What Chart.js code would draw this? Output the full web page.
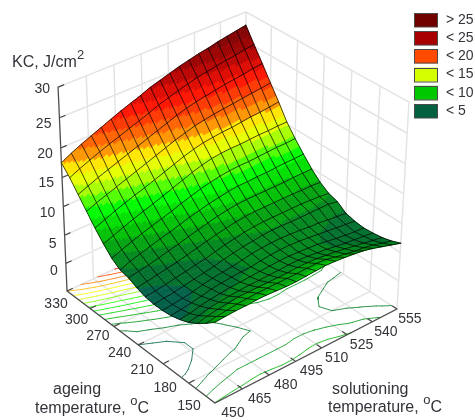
<!DOCTYPE html>
<html><head><meta charset="utf-8">
<style>html,body{margin:0;padding:0;background:#fff}canvas{display:block}</style>
<script src="https://cdn.jsdelivr.net/npm/chart.js@4"></script>
</head><body><canvas id="c" width="475" height="420"></canvas>
<script>
// ---- axes
const solGrid=[450,455.5,461.1,466.6,472.1,477.6,483.2,488.7,494.2,499.7,505.3,510.8,516.3,521.8,527.4,532.9,538.4,543.9,549.5,555];
const ageGrid=[150,160,170,180,190,200,210,220,230,240,250,260,270,280,290,300,310,320,330];
const solTicks=[450,465,480,495,510,525,540,555];
const ageTicks=[150,180,210,240,270,300,330];
const kcTicks=[0,5,10,15,20,25,30];
const kcFloor=-5;
// ---- KC values, one list per ageing temperature
const kc150=[8.8,8.9,9.0,9.0,9.1,9.1,9.0,8.9,8.9,9.0,9.1,9.2,9.1,8.95,8.75,8.5,8.1,7.6,7.1,6.6];
const kc160=[7.5,7.8,8.0,8.2,8.3,8.4,8.4,8.4,8.4,8.4,8.5,8.5,8.4,8.0,7.7,7.4,7.2,6.9,6.4,6.0];
const kc170=[6.4,6.8,7.1,7.3,7.5,7.5,7.5,7.5,7.5,7.5,7.6,7.6,7.5,7.3,7.1,6.8,6.5,6.2,5.9,5.6];
const kc180=[5.5,5.8,6.2,6.4,6.6,6.7,6.8,6.8,6.9,6.9,7.0,7.0,6.9,6.7,6.5,6.2,6.0,5.8,5.6,5.4];
const kc190=[4.9,5.1,5.5,5.8,6.0,6.2,6.3,6.4,6.5,6.6,6.7,6.7,6.6,6.5,6.35,6.1,5.8,5.6,5.4,5.3];
const kc200=[4.5,4.7,5.0,5.3,5.7,5.9,6.1,6.2,6.25,6.5,6.7,6.8,6.8,6.7,6.5,6.3,6.1,5.9,5.7,5.5];
const kc210=[4.3,4.5,4.7,5.0,5.4,5.7,5.9,6.1,6.4,6.7,6.9,7.0,7.0,6.9,6.8,6.6,6.5,6.3,6.1,5.9];
const kc220=[4.3,4.5,4.7,5.0,5.3,5.6,5.9,6.3,6.6,6.9,7.1,7.3,7.4,7.4,7.3,7.3,7.3,7.3,7.3,7.0];
const kc230=[4.5,4.7,5.0,5.3,5.6,5.9,6.2,6.6,7.0,7.3,7.6,7.8,7.9,7.9,7.9,7.9,7.9,7.8,7.7,7.5];
const kc240=[5.0,5.3,5.6,5.9,6.2,6.6,7.0,7.4,7.8,8.1,8.4,8.6,8.7,8.7,8.7,8.7,8.7,8.6,8.6,8.5];
const kc250=[5.7,6.0,6.3,6.7,7.1,7.5,8.0,8.4,8.8,9.2,9.5,9.7,9.8,9.8,9.8,9.8,9.8,9.9,9.9,9.9];
const kc260=[6.0,6.7,7.2,7.7,8.2,8.6,9.1,9.6,10.0,10.4,10.7,11.0,11.2,11.2,11.3,11.3,11.4,11.5,11.5,11.6];
const kc270=[7.0,7.7,8.3,8.9,9.4,9.9,10.4,11.0,11.5,12.0,12.4,12.7,12.9,13.0,13.0,13.1,13.2,13.3,13.3,13.4];
const kc280=[8.5,9.1,9.8,10.4,11.0,11.5,12.1,12.7,13.3,13.9,14.4,14.8,15.0,15.1,15.1,15.2,15.3,15.3,15.4,15.4];
const kc290=[10.2,10.9,11.6,12.2,12.8,13.3,13.9,14.5,15.1,15.7,16.2,16.6,16.8,17.0,17.1,17.3,17.5,17.6,17.8,18.0];
const kc300=[12.1,12.8,13.4,14.0,14.6,15.2,15.8,16.4,17.0,17.6,18.1,18.6,18.9,19.2,19.4,19.6,19.8,20.0,20.2,20.4];
const kc310=[14.0,14.7,15.4,16.0,16.6,17.2,17.8,18.4,19.0,19.6,20.2,20.7,21.1,21.4,21.7,22.0,22.2,22.4,22.7,22.9];
const kc320=[15.9,16.7,17.4,18.1,18.7,19.3,19.9,20.5,21.1,21.8,22.3,22.8,23.3,23.7,24.0,24.3,24.6,24.8,25.1,25.3];
const kc330=[17.5,18.4,19.2,19.9,20.6,21.3,22.0,22.6,23.2,23.9,24.4,24.9,25.4,25.8,26.2,26.5,26.9,27.2,27.5,27.8];
const kcRows=[kc150,kc160,kc170,kc180,kc190,kc200,kc210,kc220,kc230,kc240,kc250,kc260,kc270,kc280,kc290,kc300,kc310,kc320,kc330];
// ---- legend
const legendLabels=['> 25','< 25','< 20','< 15','< 10','< 5'];
const legendColors=['#700000','#a80000','#ff4a00','#d4ff00','#00c800','#006040'];
const rampValues=[3,4.5,5.6,7,8,10,12,15,16.5,18,20,22,25,28];
const rampColors=['#005f48','#005f48','#00702e','#008a1c','#00a010','#00d000','#00ff00','#d4ff00','#ffff00','#ff9a00','#ff4a00','#ff1000','#a80000','#700000'];
const bandStep=1.25;
const cellSplit=6;

// perspective view of the box, into the x/y scale values
function view(sol,age,kc){
  const u=(sol-450)/105,v=(age-150)/180,w=(kc-kcFloor)/35;
  const d=1+.0595*u+.08*v-.0639*w;
  return {x:(215+205.6*u-142.6*v-13.4*w)/d,y:(403-75.6*u-88.7*v-225.8*w)/d};
}
function hex(c){return [1,3,5].map(i=>parseInt(c.substr(i,2),16));}
function ramp(z){
  if(z<=rampValues[0])return rampColors[0];
  for(let i=1;i<rampValues.length;i++){
    if(z<=rampValues[i]){
      const t=(z-rampValues[i-1])/(rampValues[i]-rampValues[i-1]);
      const a=hex(rampColors[i-1]),b=hex(rampColors[i]);
      return 'rgb('+a.map((p,k)=>Math.round(p+(b[k]-p)*t)).join(',')+')';
    }
  }
  return rampColors[rampColors.length-1];
}
function contourColor(z){
  const m=ramp(z).match(/\d+/g);
  return m?'rgba('+m.slice(0,3).join(',')+',.8)':'rgba(112,0,0,.8)';
}
const gap={x:NaN,y:NaN};
const solMin=solTicks[0],solMax=solTicks[solTicks.length-1],ageMin=ageTicks[0],ageMax=ageTicks[ageTicks.length-1],kcMax=kcTicks[kcTicks.length-1];
function seg(a,b){return [view(...a),view(...b),gap];}

// walls and floor grid
const wallPts=[];
for(const s of solTicks){wallPts.push(...seg([s,ageMax,kcFloor],[s,ageMax,kcMax]),...seg([s,ageMin,kcFloor],[s,ageMax,kcFloor]));}
for(const a of ageTicks){wallPts.push(...seg([solMax,a,kcFloor],[solMax,a,kcMax]),...seg([solMin,a,kcFloor],[solMax,a,kcFloor]));}
for(const k of kcTicks.concat([kcFloor])){wallPts.push(...seg([solMin,ageMax,k],[solMax,ageMax,k]),...seg([solMax,ageMax,k],[solMax,ageMin,k]));}

// axes with ticks
const axisPts=[...seg([solMin,ageMax,kcFloor],[solMin,ageMax,kcMax]),...seg([solMin,ageMax,kcFloor],[solMin,ageMin,kcFloor]),...seg([solMin,ageMin,kcFloor],[solMax,ageMin,kcFloor])];
for(const k of kcTicks)axisPts.push(...seg([solMin,ageMax,k],[solMin+3,ageMax,k]));
for(const a of ageTicks)axisPts.push(...seg([solMin,a,kcFloor],[solMin+3,a,kcFloor]));
for(const s of solTicks)axisPts.push(...seg([s,ageMin,kcFloor],[s,ageMin+5,kcFloor]));

// floor contours
const contourSets=[];
for(let L=bandStep;L<kcMax;L+=bandStep){
  const pts=[];
  for(let j=0;j<ageGrid.length-1;j++)for(let i=0;i<solGrid.length-1;i++){
    const c=[[i,j],[i+1,j],[i+1,j+1],[i,j+1]];
    const hits=[];
    for(let e=0;e<4;e++){
      const p=c[e],q=c[(e+1)%4],zp=kcRows[p[1]][p[0]],zq=kcRows[q[1]][q[0]];
      if((zp<L)!==(zq<L)){
        const t=(L-zp)/(zq-zp);
        hits.push(view(solGrid[p[0]]+(solGrid[q[0]]-solGrid[p[0]])*t,ageGrid[p[1]]+(ageGrid[q[1]]-ageGrid[p[1]])*t,kcFloor));
      }
    }
    for(let h=0;h+1<hits.length;h+=2)pts.push(hits[h],hits[h+1],gap);
  }
  if(pts.length)contourSets.push({level:L,pts});
}

// mesh lines
const meshSets=[];
ageGrid.forEach((a,j)=>meshSets.push(solGrid.map((s,i)=>view(s,a,kcRows[j][i]))));
solGrid.forEach((s,i)=>meshSets.push(ageGrid.map((a,j)=>view(s,a,kcRows[j][i]))));

const surfaceNodes=[];
ageGrid.forEach((a,j)=>solGrid.forEach((s,i)=>surfaceNodes.push(view(s,a,kcRows[j][i]))));

const line=(data,color,width,order,label)=>({label,data,showLine:true,borderColor:color,borderWidth:width,pointRadius:0,pointHoverRadius:0,spanGaps:false,fill:false,tension:0,order,borderCapStyle:'round'});

const datasets=[
  line(wallPts,'#e4e4e4',1.5,6,'grid'),
  ...contourSets.map(c=>line(c.pts,contourColor(c.level),1,5,'KC contour '+c.level)),
  line(axisPts,'#4a4a4a',1.2,4,'axes'),
  Object.assign(line(surfaceNodes,'rgba(0,0,0,0)',0,3,'KC surface'),{showLine:false,surface:true}),
  ...meshSets.map(m=>line(m,'rgba(0,0,0,.7)',1,1,'mesh'))
];

const surfacePlugin={
  id:'surfaceFill',
  afterDatasetDraw(chart,args){
    if(!chart.data.datasets[args.index].surface)return;
    const ctx=chart.ctx,X=chart.scales.x,Y=chart.scales.y;
    const px=(s,a,z)=>{const p=view(s,a,z);return [X.getPixelForValue(p.x),Y.getPixelForValue(p.y)];};
    ctx.save();ctx.lineWidth=.6;
    for(let j=0;j<ageGrid.length-1;j++)for(let i=0;i<solGrid.length-1;i++){
      const z00=kcRows[j][i],z10=kcRows[j][i+1],z01=kcRows[j+1][i],z11=kcRows[j+1][i+1];
      const bil=(t,r)=>{
        const s=solGrid[i]+(solGrid[i+1]-solGrid[i])*t,a=ageGrid[j]+(ageGrid[j+1]-ageGrid[j])*r;
        return [s,a,z00*(1-t)*(1-r)+z10*t*(1-r)+z01*(1-t)*r+z11*t*r];
      };
      for(let m=0;m<cellSplit;m++)for(let n=0;n<cellSplit;n++){
        const t0=m/cellSplit,t1=(m+1)/cellSplit,r0=n/cellSplit,r1=(n+1)/cellSplit;
        const mid=bil((t0+t1)/2,(r0+r1)/2)[2];
        const col=ramp((Math.floor(mid/bandStep)+.5)*bandStep);
        const q=[bil(t0,r0),bil(t1,r0),bil(t1,r1),bil(t0,r1)].map(b=>px(...b));
        ctx.fillStyle=col;ctx.strokeStyle=col;
        ctx.beginPath();ctx.moveTo(...q[0]);ctx.lineTo(...q[1]);ctx.lineTo(...q[2]);ctx.lineTo(...q[3]);ctx.closePath();ctx.fill();ctx.stroke();
      }
    }
    ctx.restore();
  }
};

const textColor='#33343a';
const labelFont='14px "Liberation Sans", Arial, sans-serif';
const titleFont='16px "Liberation Sans", Arial, sans-serif';
const smallFont='13px "Liberation Sans", Arial, sans-serif';
const kcLabelShift=[8,9,6,6,6,6,2];
const textPlugin={
  id:'boxText',
  afterDraw(chart){
    const ctx=chart.ctx,X=chart.scales.x,Y=chart.scales.y;
    const at=p=>[X.getPixelForValue(p.x),Y.getPixelForValue(p.y)];
    ctx.save();ctx.fillStyle=textColor;ctx.textBaseline='middle';ctx.font=labelFont;
    ctx.textAlign='right';
    kcTicks.forEach((k,i)=>{const [x,y]=at(view(solMin,ageMax,k));ctx.fillText(String(k),x-8,y+kcLabelShift[i]);});
    ctx.textAlign='center';
    for(const s of solTicks){const u=(s-solMin)/(solMax-solMin);const [x,y]=at(view(s,ageMin,kcFloor));ctx.fillText(String(s),x+18-5*u,y+10);}
    for(const a of ageTicks){const v=(a-ageMin)/(ageMax-ageMin);const [x,y]=at(view(solMin,a,kcFloor));ctx.fillText(String(a),x-26+15*v,y+3+10*v);}
    ctx.textAlign='left';
    const parts=(x,y,arr)=>{for(const [t,f,dy] of arr){ctx.font=f;ctx.fillText(t,x,y+dy);x+=ctx.measureText(t).width;}};
    parts(12,63,[['KC, J/cm',titleFont,0],['2',smallFont,-8]]);
    parts(53,390,[['ageing',titleFont,0]]);
    parts(35,409,[['temperature, ',titleFont,0],['o',smallFont,-8],['C',titleFont,0]]);
    parts(332,390,[['solutioning',titleFont,0]]);
    parts(328,408,[['temperature, ',titleFont,0],['o',smallFont,-8],['C',titleFont,0]]);
    ctx.font=labelFont;
    legendLabels.forEach((t,i)=>{
      const y=13+i*18.2;
      ctx.fillStyle=legendColors[i];ctx.fillRect(414,y,24,14);
      ctx.strokeStyle='#4a4a4a';ctx.lineWidth=1;ctx.strokeRect(414.5,Math.round(y)+.5,23,13.5);
      ctx.fillStyle=textColor;ctx.fillText(t,446,y+7);
    });
    ctx.restore();
  }
};

new Chart(document.getElementById('c'),{
  type:'scatter',
  data:{datasets},
  plugins:[surfacePlugin,textPlugin],
  options:{
    responsive:false,animation:false,devicePixelRatio:1,
    layout:{padding:0},
    plugins:{legend:{display:false},tooltip:{enabled:false},title:{display:false}},
    scales:{
      x:{type:'linear',min:0,max:475,display:false},
      y:{type:'linear',min:0,max:420,reverse:true,display:false}
    }
  }
});
</script></body></html>
